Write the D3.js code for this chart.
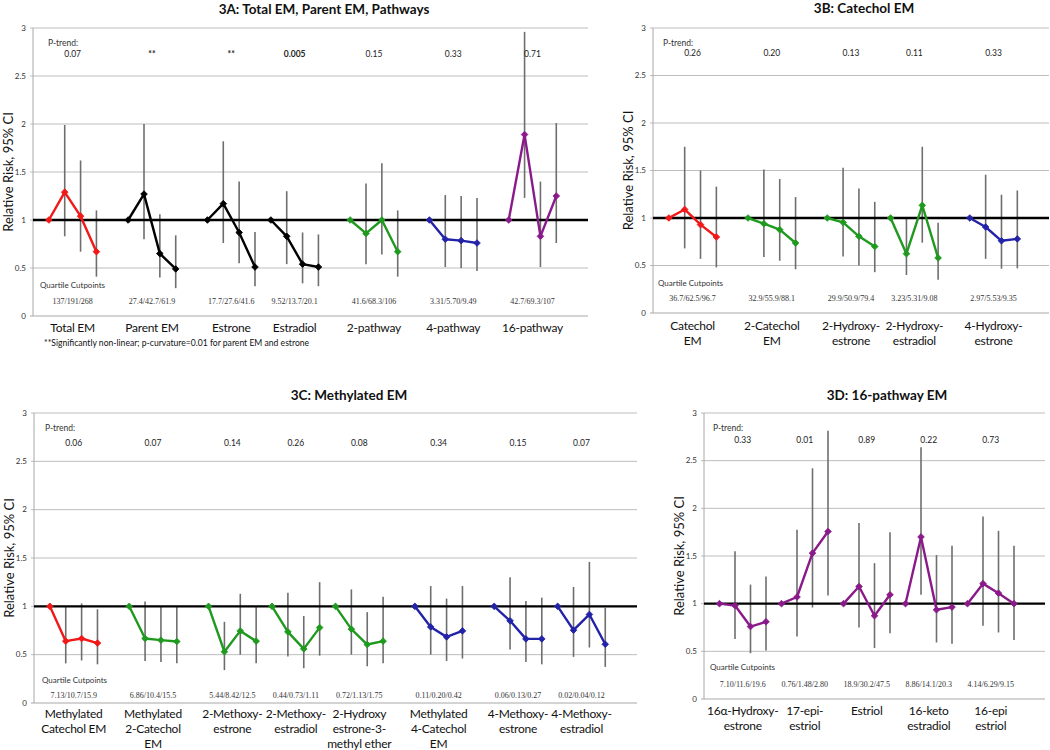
<!DOCTYPE html>
<html><head><meta charset="utf-8">
<script src="https://cdn.jsdelivr.net/npm/d3@7"></script>
<style>body{margin:0;background:#fff} svg{display:block;font-family:Lato,"Open Sans",sans-serif}</style>
</head><body><svg id="c" width="1050" height="750"></svg>
<script>
// ---------- shared ----------
const yTicks = [0, 0.5, 1, 1.5, 2, 2.5, 3];
const yTickLabels = ["0", "0.5", "1", "1.5", "2", "2.5", "3"];
const colorMap = { red: "#f01818", black: "#000000", green: "#1f9a1f", blue: "#2323a8", purple: "#8a1a8a" };

// ---------- 3A ----------
const titleA = "3A: Total EM, Parent EM, Pathways";
const labelsA = ["Total EM", "Parent EM", "Estrone", "Estradiol", "2-pathway", "4-pathway", "16-pathway"];
const layoutA = [0, "gap", 1, "gap", 2, 3, "gap", 4, "gap", 5, "gap", 6];
const rrA = [[1, 1.29, 1.04, 0.67], [1, 1.27, 0.65, 0.49], [1, 1.17, 0.87, 0.51], [1, 0.83, 0.54, 0.51], [1, 0.86, 1.0, 0.67], [1, 0.80, 0.785, 0.76], [1, 1.89, 0.83, 1.25]];
const lowA = [[null, 0.83, 0.67, 0.41], [null, 0.80, 0.40, 0.29], [null, 0.76, 0.55, 0.31], [null, 0.54, 0.34, 0.31], [null, 0.54, 0.64, 0.41], [null, 0.51, 0.50, 0.47], [null, 1.23, 0.51, 0.76]];
const highA = [[null, 1.99, 1.62, 1.10], [null, 2.0, 1.06, 0.84], [null, 1.82, 1.40, 0.875], [null, 1.30, 0.87, 0.85], [null, 1.38, 1.59, 1.10], [null, 1.26, 1.25, 1.23], [null, 2.96, 1.40, 2.01]];
const ptrendA = ["0.07", "**", "**", "0.005", "0.15", "0.33", "0.71"];
const ptrendBoldA = [false, true, true, true, false, false, false];
const cutsA = ["137/191/268", "27.4/42.7/61.9", "17.7/27.6/41.6", "9.52/13.7/20.1", "41.6/68.3/106", "3.31/5.70/9.49", "42.7/69.3/107"];
const colorsA = ["red", "black", "black", "black", "green", "blue", "purple"];
const footnoteA = "**Significantly non-linear; p-curvature=0.01 for parent EM and estrone";

// ---------- 3B ----------
const titleB = "3B: Catechol EM";
const labelsB = ["Catechol\nEM", "2-Catechol\nEM", "2-Hydroxy-\nestrone", "2-Hydroxy-\nestradiol", "4-Hydroxy-\nestrone"];
const layoutB = [0, "gap", 1, "gap", 2, 3, "gap", 4];
const rrB = [[1, 1.09, 0.93, 0.80], [1, 0.94, 0.877, 0.737], [1, 0.954, 0.807, 0.70], [1, 0.624, 1.133, 0.58], [1, 0.905, 0.76, 0.78]];
const lowB = [[null, 0.68, 0.57, 0.48], [null, 0.59, 0.55, 0.46], [null, 0.596, 0.50, 0.43], [null, 0.40, 0.74, 0.35], [null, 0.57, 0.466, 0.47]];
const highB = [[null, 1.75, 1.50, 1.33], [null, 1.51, 1.41, 1.22], [null, 1.53, 1.31, 1.17], [null, 1.0, 1.75, 0.95], [null, 1.456, 1.245, 1.29]];
const ptrendB = ["0.26", "0.20", "0.13", "0.11", "0.33"];
const cutsB = ["36.7/62.5/96.7", "32.9/55.9/88.1", "29.9/50.9/79.4", "3.23/5.31/9.08", "2.97/5.53/9.35"];
const colorsB = ["red", "green", "green", "green", "blue"];

// ---------- 3C ----------
const titleC = "3C: Methylated EM";
const labelsC = ["Methylated\nCatechol EM", "Methylated\n2-Catechol\nEM", "2-Methoxy-\nestrone", "2-Methoxy-\nestradiol", "2-Hydroxy\nestrone-3-\nmethyl ether", "Methylated\n4-Catechol\nEM", "4-Methoxy-\nestrone", "4-Methoxy-\nestradiol"];
const layoutC = [0, "gap", 1, "gap", 2, 3, 4, "gap", 5, "gap", 6, 7];
const rrC = [[1, 0.64, 0.667, 0.62], [1, 0.667, 0.65, 0.636], [1, 0.53, 0.746, 0.64], [1, 0.736, 0.56, 0.78], [1, 0.764, 0.605, 0.64], [1, 0.787, 0.684, 0.746], [1, 0.85, 0.663, 0.663], [1, 0.753, 0.916, 0.608]];
const lowC = [[null, 0.41, 0.44, 0.40], [null, 0.435, 0.425, 0.41], [null, 0.34, 0.50, 0.41], [null, 0.48, 0.36, 0.49], [null, 0.50, 0.38, 0.41], [null, 0.50, 0.435, 0.46], [null, 0.553, 0.425, 0.40], [null, 0.477, 0.574, 0.373]];
const highC = [[null, 1.0, 1.03, 0.97], [null, 1.05, 1.0, 1.0], [null, 0.84, 1.13, 1.0], [null, 1.14, 0.90, 1.25], [null, 1.175, 0.94, 1.10], [null, 1.21, 1.08, 1.21], [null, 1.30, 1.054, 1.09], [null, 1.20, 1.46, 0.985]];
const ptrendC = ["0.06", "0.07", "0.14", "0.26", "0.08", "0.34", "0.15", "0.07"];
const cutsC = ["7.13/10.7/15.9", "6.86/10.4/15.5", "5.44/8.42/12.5", "0.44/0.73/1.11", "0.72/1.13/1.75", "0.11/0.20/0.42", "0.06/0.13/0.27", "0.02/0.04/0.12"];
const colorsC = ["red", "green", "green", "green", "green", "blue", "blue", "blue"];

// ---------- 3D ----------
const titleD = "3D: 16-pathway EM";
const labelsD = ["16α-Hydroxy-\nestrone", "17-epi-\nestriol", "Estriol", "16-keto\nestradiol", "16-epi\nestriol"];
const layoutD = [0, 1, 2, 3, 4];
const rrD = [[1, 0.98, 0.76, 0.81], [1, 1.07, 1.53, 1.757], [1, 1.18, 0.873, 1.093], [1, 1.70, 0.936, 0.964], [1, 1.21, 1.11, 1.0]];
const lowD = [[null, 0.63, 0.48, 0.51], [null, 0.656, 0.96, 1.086], [null, 0.75, 0.534, 0.69], [null, 1.093, 0.593, 0.58], [null, 0.768, 0.698, 0.62]];
const highD = [[null, 1.55, 1.20, 1.285], [null, 1.775, 2.42, 2.815], [null, 1.845, 1.425, 1.75], [null, 2.64, 1.51, 1.607], [null, 1.914, 1.764, 1.607]];
const ptrendD = ["0.33", "0.01", "0.89", "0.22", "0.73"];
const cutsD = ["7.10/11.6/19.6", "0.76/1.48/2.80", "18.9/30.2/47.5", "8.86/14.1/20.3", "4.14/6.29/9.15"];
const colorsD = ["purple", "purple", "purple", "purple", "purple"];

const svg = d3.select("#c");

function drawPanel(p) {
  const g = svg.append("g");
  // compute slot start of each group
  let slot = 0; const starts = [];
  p.layout.forEach(item => { if (item === "gap") slot += 1; else { starts[item] = slot; slot += 4; } });
  const n = slot;
  const x = d3.scaleLinear().domain([-1, n + 1]).range(p.xr);
  const y = d3.scaleLinear().domain([0, 3]).range(p.yr);
  const x0 = p.xr[0], x1 = p.xr[1];

  // gridlines
  g.selectAll("line.grid").data(yTicks).join("line")
    .attr("x1", x0 - 3).attr("x2", x1)
    .attr("y1", d => y(d)).attr("y2", d => y(d))
    .attr("stroke", d => d === 0 ? "#a8a8a8" : "#bdbdbd").attr("stroke-width", 1);
  g.append("line").attr("x1", x0).attr("x2", x0).attr("y1", y(0)).attr("y2", y(3))
    .attr("stroke", "#a8a8a8").attr("stroke-width", 1);
  // tick labels
  g.selectAll("text.tick").data(yTicks).join("text")
    .attr("x", x0 - 7).attr("y", d => y(d)).attr("dy", "0.35em")
    .attr("text-anchor", "end").attr("font-size", 8).attr("fill", "#333")
    .text((d, i) => yTickLabels[i]);
  // y label
  g.append("text").attr("transform", `translate(${x0 - 25},${(y(0) + y(3)) / 2}) rotate(-90)`)
    .attr("text-anchor", "middle").attr("dy", "0.35em").attr("font-size", 13).attr("fill", "#111")
    .text("Relative Risk, 95% CI");
  // title
  g.append("text").attr("x", p.titlePos[0]).attr("y", p.titlePos[1]).attr("text-anchor", "middle")
    .attr("font-size", 13.5).attr("font-weight", "bold").attr("fill", "#111").text(p.title);

  // error bars
  p.labels.forEach((lab, gi) => {
    p.high[gi].forEach((h, k) => {
      if (h == null) return;
      g.append("line").attr("x1", x(starts[gi] + k)).attr("x2", x(starts[gi] + k))
        .attr("y1", y(h)).attr("y2", y(p.low[gi][k]))
        .attr("stroke", "#6e6e6e").attr("stroke-width", 1.6);
    });
  });
  // reference line at 1
  g.append("line").attr("x1", x0).attr("x2", x1).attr("y1", y(1)).attr("y2", y(1))
    .attr("stroke", "#000").attr("stroke-width", 2.4);

  // series
  const line = d3.line().x(d => x(d[0])).y(d => y(d[1]));
  p.labels.forEach((lab, gi) => {
    const pts = p.rr[gi].map((v, k) => [starts[gi] + k, v]);
    const col = colorMap[p.colors[gi]];
    g.append("path").attr("d", line(pts)).attr("fill", "none").attr("stroke", col)
      .attr("stroke-width", 2.4).attr("stroke-linejoin", "round");
    g.selectAll(null).data(pts).join("path")
      .attr("d", d3.symbol(d3.symbolSquare, 22)())
      .attr("transform", d => `translate(${x(d[0])},${y(d[1])}) rotate(45)`)
      .attr("fill", col).attr("stroke", col).attr("stroke-width", 0.8);
  });

  // p-trend
  g.append("text").attr("x", x0 + p.ptLeft).attr("y", y(3) + p.ptY[0]).attr("dy", "0.35em")
    .attr("font-size", 8.5).attr("fill", "#333").text("P-trend:");
  p.labels.forEach((lab, gi) => {
    g.append("text").attr("x", x(starts[gi] + 1.5)).attr("y", y(3) + p.ptY[1]).attr("dy", "0.35em")
      .attr("text-anchor", "middle").attr("font-size", 8.5).attr("fill", "#222")
      .attr("font-weight", p.ptBold && p.ptBold[gi] ? "bold" : "normal").text(p.ptrend[gi]);
  });
  // quartile cutpoints
  g.append("text").attr("x", x0 + p.qLeft).attr("y", y(0) - p.qOff[0]).attr("dy", "0.35em")
    .attr("font-size", 8).attr("fill", "#333").text("Quartile Cutpoints");
  p.labels.forEach((lab, gi) => {
    g.append("text").attr("x", x(starts[gi] + 1.5)).attr("y", y(0) - p.qOff[1]).attr("dy", "0.35em")
      .attr("text-anchor", "middle").attr("font-size", 8).attr("fill", "#333")
      .attr("font-family", "'Liberation Serif',serif").text(p.cuts[gi]);
  });
  // category labels
  p.labels.forEach((lab, gi) => {
    const t = g.append("text").attr("text-anchor", "middle").attr("font-size", 12)
      .attr("letter-spacing", -0.25).attr("fill", "#111");
    lab.split("\n").forEach((s, li) => {
      t.append("tspan").attr("x", x(starts[gi] + 1.5)).attr("y", y(0) + p.catY + li * 14.7)
        .attr("dy", "0.35em").text(s);
    });
  });
  if (p.footnote) {
    g.append("text").attr("x", x0 + 11).attr("y", y(0) + 27).attr("dy", "0.35em")
      .attr("font-size", 8.6).attr("fill", "#111").text(p.footnote);
  }
}

drawPanel({ title: titleA, titlePos: [324, 14], labels: labelsA, layout: layoutA, rr: rrA, low: lowA, high: highA,
  ptrend: ptrendA, ptBold: ptrendBoldA, cuts: cutsA, colors: colorsA, footnote: footnoteA,
  xr: [33, 588], yr: [316, 28], ptLeft: 15, ptY: [15, 26], qLeft: 7, qOff: [31, 15], catY: 12 });
drawPanel({ title: titleB, titlePos: [864, 13], labels: labelsB, layout: layoutB, rr: rrB, low: lowB, high: highB,
  ptrend: ptrendB, cuts: cutsB, colors: colorsB,
  xr: [653, 1049], yr: [313, 28], ptLeft: 10, ptY: [15, 25], qLeft: 5, qOff: [30, 15], catY: 13 });
drawPanel({ title: titleC, titlePos: [349, 400], labels: labelsC, layout: layoutC, rr: rrC, low: lowC, high: highC,
  ptrend: ptrendC, cuts: cutsC, colors: colorsC,
  xr: [34, 637], yr: [703, 413], ptLeft: 11, ptY: [15, 30], qLeft: 8, qOff: [23, 8], catY: 11 });
drawPanel({ title: titleD, titlePos: [887, 400], labels: labelsD, layout: layoutD, rr: rrD, low: lowD, high: highD,
  ptrend: ptrendD, cuts: cutsD, colors: colorsD,
  xr: [704, 1045], yr: [699, 413], ptLeft: 9, ptY: [15, 27], qLeft: 6, qOff: [32, 15], catY: 12 });
</script></body></html>
